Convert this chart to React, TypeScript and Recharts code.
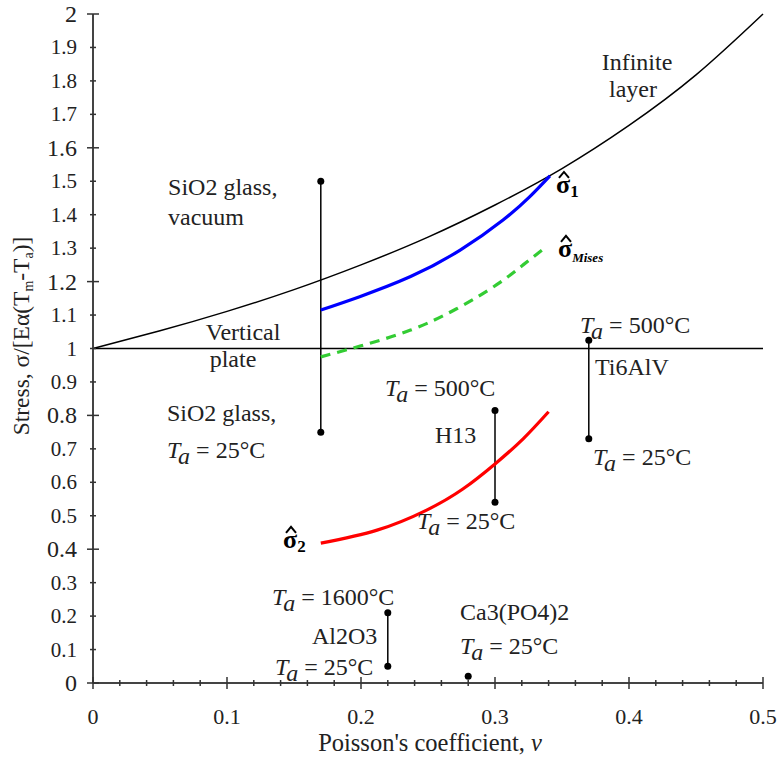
import React from 'react';
import { LineChart, Line, XAxis, YAxis, ReferenceDot } from 'recharts';

const SERIF = "'Liberation Serif', 'DejaVu Serif', serif";
const ANNO_SIZE = 24;

// infinite layer curve
const layerNu = [0, 0.05, 0.1, 0.15, 0.2, 0.25, 0.3, 0.35, 0.4, 0.45, 0.5];
const layerStress = [1, 1.053, 1.111, 1.176, 1.25, 1.333, 1.429, 1.538, 1.667, 1.818, 2.0];

// vertical plate
const plateNu = [0, 0.5];
const plateStress = [1, 1];

// sigma 1 (blue)
const sig1Nu = [0.17, 0.199, 0.237, 0.274, 0.306, 0.326, 0.341];
const sig1Stress = [1.115, 1.155, 1.215, 1.294, 1.384, 1.454, 1.516];

// sigma Mises (green dashed)
const misesNu = [0.17, 0.2, 0.237, 0.271, 0.301, 0.321, 0.339];
const misesStress = [0.975, 1.008, 1.055, 1.118, 1.19, 1.25, 1.306];

// sigma 2 (red)
const sig2Nu = [0.17, 0.212, 0.249, 0.276, 0.3, 0.321, 0.34];
const sig2Stress = [0.418, 0.457, 0.517, 0.58, 0.655, 0.73, 0.811];

// material ranges: SiO2, H13, Ti6AlV, Al2O3
const matNu = [0.17, 0.3, 0.37, 0.22];
const matLow = [0.75, 0.54, 0.73, 0.05];
const matHigh = [1.5, 0.815, 1.025, 0.21];
// Ca3(PO4)2 single point
const caNu = [0.28];
const caStress = [0.02];

const xTicks = [0, 0.02, 0.04, 0.06, 0.08, 0.1, 0.12, 0.14, 0.16, 0.18, 0.2, 0.22, 0.24, 0.26, 0.28, 0.3,
  0.32, 0.34, 0.36, 0.38, 0.4, 0.42, 0.44, 0.46, 0.48, 0.5];
const xLabels = ['0', '0.1', '0.2', '0.3', '0.4', '0.5'];
const yTicks = [0, 0.1, 0.2, 0.3, 0.4, 0.5, 0.6, 0.7, 0.8, 0.9, 1, 1.1, 1.2, 1.3, 1.4, 1.5, 1.6, 1.7, 1.8, 1.9, 2];
const yMajor = [0, 0.4, 0.8, 1.2, 1.6, 2];

const pts = (xs: number[], ys: number[]) => xs.map((x, i) => ({ x, y: ys[i] }));

type Anno = { v: number; s: number; kind: string; text?: string; anchor?: string };

const annos: Anno[] = [
  { v: 0.406, s: 1.833, kind: 'plain', text: 'Infinite', anchor: 'middle' },
  { v: 0.403, s: 1.752, kind: 'plain', text: 'layer', anchor: 'middle' },
  { v: 0.3455, s: 1.465, kind: 'sigma', text: '1' },
  { v: 0.347, s: 1.274, kind: 'sigma', text: 'Mises' },
  { v: 0.056, s: 1.458, kind: 'plain', text: 'SiO2 glass,' },
  { v: 0.056, s: 1.37, kind: 'plain', text: 'vacuum' },
  { v: 0.112, s: 1.025, kind: 'plain', text: 'Vertical', anchor: 'middle' },
  { v: 0.1045, s: 0.946, kind: 'plain', text: 'plate', anchor: 'middle' },
  { v: 0.3634, s: 1.046, kind: 'ta', text: ' = 500°C' },
  { v: 0.3746, s: 0.921, kind: 'plain', text: 'Ti6AlV' },
  { v: 0.3731, s: 0.652, kind: 'ta', text: ' = 25°C' },
  { v: 0.0552, s: 0.783, kind: 'plain', text: 'SiO2 glass,' },
  { v: 0.0552, s: 0.673, kind: 'ta', text: ' = 25°C' },
  { v: 0.2179, s: 0.858, kind: 'ta', text: ' = 500°C' },
  { v: 0.2552, s: 0.7175, kind: 'plain', text: 'H13' },
  { v: 0.2418, s: 0.46, kind: 'ta', text: ' = 25°C' },
  { v: 0.1418, s: 0.404, kind: 'sigma', text: '2' },
  { v: 0.1336, s: 0.233, kind: 'ta', text: ' = 1600°C' },
  { v: 0.1634, s: 0.117, kind: 'plain', text: 'Al2O3' },
  { v: 0.1358, s: 0.024, kind: 'ta', text: ' = 25°C' },
  { v: 0.2739, s: 0.188, kind: 'plain', text: 'Ca3(PO4)2' },
  { v: 0.2739, s: 0.087, kind: 'ta', text: ' = 25°C' },
];

const renderAnno = (a: Anno, cx: number, cy: number) => {
  if (a.kind === 'ta') {
    return (
      <text x={cx} y={cy} style={{ fontFamily: SERIF }} fontSize={ANNO_SIZE} fill="#222">
        <tspan fontStyle="italic">T</tspan>
        <tspan fontStyle="italic" dy={6}>a</tspan>
        <tspan dy={-6}>{a.text}</tspan>
      </text>
    );
  }
  if (a.kind === 'sigma') {
    const mises = a.text === 'Mises';
    return (
      <g>
        <text x={cx} y={cy} style={{ fontFamily: SERIF }} fontWeight="bold" fill="#000" fontSize={26}>
          {'\u03C3'}
          <tspan fontSize={mises ? 13 : 17} fontStyle={mises ? 'italic' : 'normal'} dy={mises ? 5 : 4}>{a.text}</tspan>
        </text>
        <path d={`M${cx + 3},${cy - 15} L${cx + 8},${cy - 21} L${cx + 13},${cy - 15}`} fill="none" stroke="#000" strokeWidth={2} />
      </g>
    );
  }
  return (
    <text x={cx} y={cy} style={{ fontFamily: SERIF }} fontSize={ANNO_SIZE} fill="#222" textAnchor={a.anchor || 'start'}>
      {a.text}
    </text>
  );
};

const XTick = (props: any) => {
  const { x, y, payload } = props;
  const label = xLabels.find((l) => Math.abs(parseFloat(l) - payload.value) < 1e-6);
  const h = label ? 6 : 3;
  return (
    <g>
      <line x1={x} x2={x} y1={y - h} y2={y + h} stroke="#333" strokeWidth={1.5} />
      {label && (
        <text x={x} y={y + 41} textAnchor="middle" style={{ fontFamily: SERIF }} fontSize={22} fill="#222">
          {label}
        </text>
      )}
    </g>
  );
};

const YTick = (props: any) => {
  const { x, y, payload } = props;
  const major = yMajor.some((m) => Math.abs(m - payload.value) < 1e-6);
  const h = major ? 6 : 3;
  return (
    <g>
      <line x1={x - h} x2={x + h} y1={y} y2={y} stroke="#333" strokeWidth={1.5} />
      <text x={x - 16} y={y + (major ? 8 : 7)} textAnchor="end" style={{ fontFamily: SERIF }} fontSize={major ? 24 : 21} fill="#222">
        {String(payload.value)}
      </text>
    </g>
  );
};

export default function App() {
  const segs = matNu.map((v, i) => pts([v, v], [matLow[i], matHigh[i]]));
  const dot = { r: 3.5, fill: '#000', stroke: '#000', strokeWidth: 0 };
  return (
    <div style={{ position: 'absolute', left: 0, top: 0, background: '#fff', fontFamily: SERIF }}>
      <LineChart width={779} height={758} margin={{ top: 14, right: 16, left: 0, bottom: 0 }}>
        <XAxis
          type="number"
          dataKey="x"
          domain={[0, 0.5]}
          ticks={xTicks}
          interval={0}
          tickSize={0}
          tickMargin={0}
          tick={<XTick />}
          height={75}
          axisLine={{ stroke: '#444', strokeWidth: 2 }}
          label={{
            content: () => (
              <text x={430} y={751} textAnchor="middle" style={{ fontFamily: SERIF }} fontSize={24.5} fill="#222">
                Poisson's coefficient, <tspan fontStyle="italic">v</tspan>
              </text>
            ),
          }}
        />
        <YAxis
          type="number"
          domain={[0, 2]}
          ticks={yTicks}
          interval={0}
          tickSize={0}
          tickMargin={0}
          tick={<YTick />}
          width={93}
          axisLine={{ stroke: '#444', strokeWidth: 2 }}
          label={{
            content: () => (
              <text
                x={0}
                y={0}
                transform="translate(29, 336) rotate(-90)"
                textAnchor="middle"
                style={{ fontFamily: SERIF }}
                fontSize={23.5}
                fill="#222"
              >
                Stress, σ/[Eα(T<tspan fontSize={14} dy={4}>m</tspan>
                <tspan dy={-4}>-T</tspan>
                <tspan fontSize={14} dy={4}>a</tspan>
                <tspan dy={-4}>)]</tspan>
              </text>
            ),
          }}
        />
        <Line data={pts(plateNu, plateStress)} dataKey="y" type="linear" stroke="#000" strokeWidth={1.5} dot={false} isAnimationActive={false} />
        <Line data={pts(layerNu, layerStress)} dataKey="y" type="natural" stroke="#000" strokeWidth={1.5} dot={false} isAnimationActive={false} />
        {segs.map((d, i) => (
          <Line key={i} data={d} dataKey="y" type="linear" stroke="#000" strokeWidth={1.5} dot={dot} isAnimationActive={false} />
        ))}
        <Line data={pts(caNu, caStress)} dataKey="y" stroke="#000" dot={dot} isAnimationActive={false} />
        <Line data={pts(sig1Nu, sig1Stress)} dataKey="y" type="natural" stroke="#0000ff" strokeWidth={3.2} dot={false} isAnimationActive={false} />
        <Line data={pts(misesNu, misesStress)} dataKey="y" type="natural" stroke="#33cc33" strokeWidth={3.2} strokeDasharray="10 7" dot={false} isAnimationActive={false} />
        <Line data={pts(sig2Nu, sig2Stress)} dataKey="y" type="natural" stroke="#ff0000" strokeWidth={3.2} dot={false} isAnimationActive={false} />
        {annos.map((a, i) => (
          <ReferenceDot key={'a' + i} x={a.v} y={a.s} r={0} ifOverflow="visible" shape={(p: any) => renderAnno(a, p.cx, p.cy)} />
        ))}
      </LineChart>
    </div>
  );
}
